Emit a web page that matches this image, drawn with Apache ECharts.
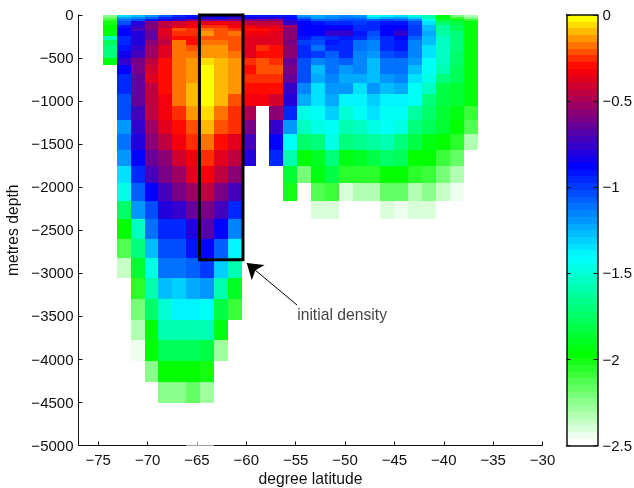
<!DOCTYPE html>
<html>
<head>
<meta charset="utf-8">
<style>html,body{margin:0;padding:0;background:#fff}#c{width:634px;height:488px}</style>
<script src="https://cdn.jsdelivr.net/npm/echarts@6/dist/echarts.min.js"></script>
</head>
<body>
<div id="c"></div>
<script>
const latEdges = [-74.53,-73.13,-71.72,-70.31,-68.91,-67.50,-66.09,-64.69,-63.28,-61.88,-60.47,-59.06,-57.66,-56.25,-54.84,-53.44,-52.03,-50.63,-49.22,-47.81,-46.41,-45.00,-43.59,-42.19,-40.78,-39.38,-37.97,-36.56];
const depthEdges = [0,-20,-43,-74,-113,-151,-190,-241,-295,-344,-415,-497,-578,-686,-787,-915,-1055,-1217,-1380,-1566,-1752,-1950,-2159,-2369,-2601,-2828,-3055,-3299,-3543,-3776,-4020,-4264,-4508,-5000];
const xTicks = [-75,-70,-65,-60,-55,-50,-45,-40,-35,-30];

// density per latitude column, surface downward
const col00 = [-2.25,-2.18,-2.08,-2.03,-1.98,-1.98,-1.93,-1.57,-1.76,-1.68,-1.68,-1.93];
const col01 = [-1.35,-1.2,-1.12,-1.05,-.92,-.88,-.88,-.97,-.95,-.93,-.83,-.76,-.87,-.94,-.94,-1.02,-1.02,-1.18,-1.12,-1.2,-1.33,-1.45,-1.73,-1.98,-2.12,-2.37];
const col02 = [-1.28,-1.14,-1.05,-.8,-.75,-.72,-.8,-.8,-.8,-.76,-.72,-.62,-.62,-.63,-.66,-.65,-.72,-.77,-.8,-.87,-.97,-1.07,-1.2,-1.53,-1.68,-1.87,-2.05,-2.2,-2.33,-2.43];
const col03 = [-1.2,-1.07,-.9,-.62,-.58,-.6,-.65,-.64,-.56,-.52,-.51,-.44,-.41,-.39,-.43,-.44,-.46,-.54,-.56,-.65,-.72,-.87,-1.03,-1.12,-1.26,-1.46,-1.58,-1.72,-1.92,-1.97,-2.26];
const col04 = [-1.07,-.96,-.82,-.46,-.43,-.37,-.37,-.41,-.46,-.37,-.36,-.29,-.29,-.29,-.29,-.33,-.33,-.37,-.43,-.55,-.6,-.72,-.82,-.95,-1.02,-1.12,-1.28,-1.5,-1.58,-1.78,-1.98,-2.24];
const col05 = [-.97,-.9,-.75,-.41,-.39,-.21,-.24,-.29,-.17,-.17,-.17,-.17,-.17,-.17,-.17,-.17,-.25,-.29,-.35,-.41,-.54,-.62,-.75,-.95,-1.02,-1.12,-1.29,-1.39,-1.58,-1.78,-1.98,-2.24];
const col06 = [-.92,-.87,-.62,-.36,-.33,-.27,-.26,-.29,-.29,-.2,-.17,-.12,-.12,-.12,-.09,-.11,-.12,-.21,-.25,-.33,-.39,-.52,-.65,-.8,-.93,-1.07,-1.23,-1.39,-1.58,-1.78,-1.98,-2.18,-2.5];
const col07 = [-.83,-.8,-.65,-.37,-.27,-.16,-.12,-.2,-.17,-.14,-.12,-.07,-.02,0,0,-.01,-.04,-.08,-.16,-.25,-.33,-.46,-.6,-.7,-.87,-1.0,-1.2,-1.41,-1.58,-1.83,-2.0,-2.28,-2.5];
const col08 = [-.85,-.83,-.63,-.35,-.27,-.23,-.21,-.23,-.18,-.14,-.12,-.09,-.09,-.09,-.09,-.09,-.16,-.2,-.29,-.36,-.46,-.6,-.72,-.87,-1.07,-1.32,-1.58,-1.8,-1.95,-2.3];
const col09 = [-.84,-.76,-.62,-.37,-.32,-.26,-.17,-.23,-.22,-.21,-.17,-.12,-.12,-.12,-.12,-.21,-.25,-.25,-.36,-.43,-.55,-.72,-.95,-1.16,-1.38,-1.58,-1.9,-2.1];
const col10 = [-.93,-.83,-.62,-.43,-.35,-.29,-.32,-.37,-.37,-.37,-.36,-.25,-.29,-.27,-.29,-.33,-.48,-.6,-.72,-.82];
const col11 = [-.93,-.82,-.6,-.45,-.37,-.29,-.34,-.37,-.37,-.25,-.29,-.21,-.21,-.25,-.29,-.33];
const col12 = [-.93,-.8,-.58,-.46,-.39,-.33,-.37,-.37,-.37,-.29,-.29,-.25,-.21,-.25,-.29,-.42,-.58,-.75,-.87,-.97];
const col13 = [-.9,-.88,-.8,-.75,-.52,-.56,-.56,-.58,-.62,-.57,-.57,-.66,-.6,-.66,-.75,-.8,-.97,-1.18,-1.41,-1.6,-1.85,-2.03];
const col14 = [-1.2,-1.07,-.95,-.87,-.87,-.88,-.88,-.93,-.98,-.97,-.97,-1.03,-1.03,-1.03,-1.16,-1.25,-1.46,-1.53,-1.75,-1.98,-2.2];
const col15 = [-1.25,-1.2,-1.07,-.93,-.88,-.88,-.88,-.98,-1.03,-1.1,-1.0,-1.16,-1.27,-1.24,-1.33,-1.36,-1.41,-1.48,-1.68,-1.9,-1.93,-2.14,-2.42];
const col16 = [-1.2,-1.15,-1.08,-.95,-.87,-.85,-.77,-.95,-.92,-.97,-1.07,-1.1,-1.1,-1.16,-1.2,-1.23,-1.3,-1.41,-1.47,-1.7,-1.8,-2.08,-2.42];
const col17 = [-1.17,-1.1,-1.02,-.95,-.88,-.85,-.77,-.92,-.94,-.94,-.94,-1.07,-1.2,-1.24,-1.2,-1.37,-1.5,-1.58,-1.7,-1.94,-2.05,-2.39];
const col18 = [-1.18,-1.1,-1.03,-.98,-.95,-.95,-.92,-.95,-1.1,-1.1,-1.14,-1.14,-1.14,-1.24,-1.33,-1.38,-1.41,-1.54,-1.65,-1.9,-2.05,-2.33];
const col19 = [-1.41,-1.3,-1.07,-.96,-.97,-.97,-1.03,-1.09,-1.14,-1.14,-1.2,-1.28,-1.28,-1.27,-1.2,-1.3,-1.33,-1.46,-1.63,-1.82,-2.05,-2.33];
const col20 = [-1.37,-1.24,-1.03,-.9,-.87,-.87,-.86,-.94,-.97,-.97,-1.03,-1.12,-1.12,-1.2,-1.26,-1.37,-1.42,-1.44,-1.58,-1.75,-1.98,-2.16,-2.39];
const col21 = [-1.35,-1.2,-1.07,-.93,-.87,-.83,-.78,-.88,-.91,-.91,-.98,-1.12,-1.12,-1.16,-1.25,-1.37,-1.42,-1.47,-1.7,-1.78,-1.98,-2.16,-2.43];
const col22 = [-1.46,-1.3,-1.17,-1.05,-1.0,-.98,-.99,-1.07,-1.16,-1.16,-1.17,-1.2,-1.28,-1.33,-1.41,-1.44,-1.63,-1.7,-1.8,-1.98,-2.05,-2.33,-2.42];
const col23 = [-1.6,-1.58,-1.41,-1.33,-1.27,-1.27,-1.22,-1.26,-1.26,-1.33,-1.34,-1.41,-1.41,-1.48,-1.54,-1.68,-1.75,-1.78,-1.93,-1.98,-2.1,-2.24,-2.39];
const col24 = [-1.93,-1.93,-1.87,-1.72,-1.63,-1.63,-1.63,-1.55,-1.55,-1.55,-1.55,-1.55,-1.6,-1.68,-1.8,-1.8,-1.85,-1.87,-1.96,-2.1,-2.2,-2.37,-2.47];
const col25 = [-2.22,-2.08,-1.92,-1.83,-1.76,-1.76,-1.7,-1.7,-1.7,-1.7,-1.75,-1.75,-1.78,-1.78,-1.85,-1.85,-1.95,-1.98,-2.05,-2.18,-2.33,-2.43];
const col26 = [-2.33,-2.24,-2.1,-1.93,-1.93,-1.93,-1.95,-1.95,-1.95,-1.95,-1.95,-1.95,-1.95,-1.95,-1.95,-1.95,-2.1,-2.14,-2.33];
const columns = [col00,col01,col02,col03,col04,col05,col06,col07,col08,col09,col10,col11,col12,col13,col14,col15,col16,col17,col18,col19,col20,col21,col22,col23,col24,col25,col26];

// initial density box and arrow
const boxLats = [-64.75,-60.34,-60.34,-64.75,-64.75];
const boxDepths = [0,0,-2842,-2842,0];
const arrowTail = [-54.86,-3369];
const arrowTip = [-59.96,-2880];
const noteAt = [-54.85,-3495];
const noteText = 'initial density';

const stopValues = [-2.5,-1.98,-1.41,-0.87,-0.29,0];
const stopColors = [[255,255,255],[0,255,0],[0,255,255],[0,0,255],[255,0,0],[255,255,0]];
const LEVELS = 64;
function colorOf(v){
  if(v <= -2.5) return 'rgba(255,255,255,0.6)';
  const i = Math.min(LEVELS-1, Math.floor((v+2.5)/2.5*LEVELS));
  const mid = -2.5 + i*2.5/(LEVELS-1);
  let k = 0;
  while(k < stopValues.length-2 && mid > stopValues[k+1]) k++;
  const f = (mid-stopValues[k])/(stopValues[k+1]-stopValues[k]);
  const a = stopColors[k], b = stopColors[k+1];
  return 'rgb('+[0,1,2].map(j=>Math.round(a[j]+(b[j]-a[j])*f)).join(',')+')';
}
const cells = [];
columns.forEach((col,c)=>col.forEach((v,r)=>cells.push([latEdges[c],latEdges[c+1],depthEdges[r],depthEdges[r+1],v])));
const bar = [];
for(let i=0;i<LEVELS;i++){
  const lo=-2.5+i*2.5/LEVELS, hi=-2.5+(i+1)*2.5/LEVELS;
  bar.push([0,1,hi,lo,(lo+hi)/2]);
}
function rectItem(params,api){
  const p0=api.coord([api.value(0),api.value(2)]);
  const p1=api.coord([api.value(1),api.value(3)]);
  const x=Math.round(p0[0]),y=Math.round(p0[1]);
  return {type:'rect',shape:{x:x,y:y,width:Math.round(p1[0])-x,height:Math.round(p1[1])-y},
    style:{fill:colorOf(api.value(4)),stroke:null}};
}
const FONT='"Liberation Sans",Arial,sans-serif', INK='#111';
const fmt=v=>String(v).replace('-','\u2212');
const text={fontFamily:FONT,fontSize:15,color:'#111'};
const nameText={fontFamily:FONT,fontSize:15.7,color:'#111'};
const line={lineStyle:{color:INK,width:1}};
const chart=echarts.init(document.getElementById('c'),null,{renderer:'canvas'});
chart.setOption({
  animation:false,backgroundColor:'#fff',
  grid:[{left:78.5,top:15,width:464,height:430.5,outerBoundsMode:'none'},{left:566.5,top:15,width:31,height:430.5,outerBoundsMode:'none'}],
  xAxis:[
    {gridIndex:0,type:'value',min:-77,max:-30,splitLine:{show:false},
     axisLine:{show:true,onZero:false,...line},
     axisTick:{show:true,inside:true,length:4,customValues:xTicks,...line},
     axisLabel:{...text,margin:8,customValues:xTicks,formatter:fmt,showMinLabel:true,showMaxLabel:true},
     name:'degree latitude',nameLocation:'middle',nameGap:26,nameMoveOverlap:false,nameTextStyle:{...nameText}},
    {gridIndex:1,type:'value',min:0,max:1,position:'bottom',splitLine:{show:false},z:5,
     axisLine:{show:true,onZero:false,lineStyle:{color:INK,width:1.5}},axisTick:{show:false},axisLabel:{show:false}},
    {gridIndex:1,type:'value',min:0,max:1,position:'top',splitLine:{show:false},z:5,
     axisLine:{show:true,onZero:false,lineStyle:{color:INK,width:1.5}},axisTick:{show:false},axisLabel:{show:false}}
  ],
  yAxis:[
    {gridIndex:0,type:'value',min:-5000,max:0,interval:500,splitLine:{show:false},
     axisLine:{show:true,onZero:false,...line},
     axisTick:{show:true,inside:true,length:4,...line},
     axisLabel:{...text,margin:5,verticalAlign:'top',padding:[-6.5,0,0,0],formatter:fmt},
     name:'metres depth',nameLocation:'middle',nameGap:57,nameMoveOverlap:false,nameRotate:90,nameTextStyle:{...nameText}},
    {gridIndex:1,type:'value',min:-2.5,max:0,interval:0.5,position:'right',splitLine:{show:false},z:5,
     axisLine:{show:true,onZero:false,lineStyle:{color:INK,width:1.5}},
     axisTick:{show:true,inside:true,length:4,...line},
     axisLabel:{...text,margin:5,verticalAlign:'top',padding:[-6.5,0,0,0],formatter:fmt}},
    {gridIndex:1,type:'value',min:-2.5,max:0,interval:0.5,position:'left',splitLine:{show:false},z:5,
     axisLine:{show:true,onZero:false,lineStyle:{color:INK,width:1.5}},
     axisTick:{show:true,inside:true,length:4,...line},
     axisLabel:{show:false}}
  ],
  series:[
    {type:'custom',xAxisIndex:0,yAxisIndex:0,data:cells,renderItem:rectItem,encode:{x:[0,1],y:[2,3]},clip:false,silent:true},
    {type:'custom',xAxisIndex:1,yAxisIndex:1,data:bar,renderItem:rectItem,encode:{x:[0,1],y:[2,3]},clip:false,silent:true},
    {type:'line',xAxisIndex:0,yAxisIndex:0,z:4,clip:false,silent:true,symbol:'none',
     data:boxLats.map((x,i)=>[x,boxDepths[i]]),lineStyle:{color:'#000',width:3,join:'miter',cap:'square'},
     markLine:{silent:true,animation:false,symbol:['none','arrow'],symbolSize:15,label:{show:false},
       lineStyle:{color:'#000',width:1,type:'solid'},
       data:[[{coord:arrowTail},{coord:arrowTip}]]}},
    {type:'scatter',xAxisIndex:0,yAxisIndex:0,z:4,silent:true,symbolSize:0,data:[noteAt],
     label:{show:true,position:'right',distance:0,formatter:noteText,...nameText}}
  ]
});
</script>
</body>
</html>
